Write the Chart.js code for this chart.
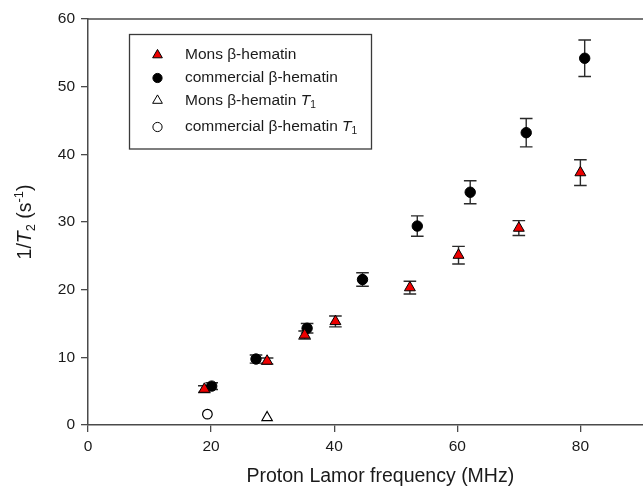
<!DOCTYPE html>
<html>
<head>
<meta charset="utf-8">
<script src="https://cdn.jsdelivr.net/npm/chart.js@4/dist/chart.umd.min.js"></script>
<style>
  html, body { margin: 0; padding: 0; background: #fff; overflow: hidden; width: 643px; height: 491px; }
  #wrap { position: relative; width: 643px; height: 491px; overflow: hidden; }
  canvas { display: block; }
</style>
</head>
<body>
<div id="wrap"><canvas id="c" width="680" height="491"></canvas></div>
<script>
// ---- data ----
const monsFreq   = [18.9, 29.1, 35.2, 40.2, 52.3, 60.2, 70.0, 80.0];
const monsRate   = [5.3, 9.45, 13.3, 15.3, 20.3, 25.1, 29.1, 37.3];
const monsErr    = [0.5, 0.45, 0.6, 0.8, 0.95, 1.3, 1.1, 1.9];
const commFreq   = [20.1, 27.3, 35.6, 44.6, 53.5, 62.1, 71.2, 80.7];
const commRate   = [5.75, 9.75, 14.3, 21.5, 29.4, 34.4, 43.2, 54.2];
const commErr    = [0.5, 0.6, 0.7, 1.0, 1.5, 1.7, 2.1, 2.7];
const monsT1Freq = [29.1];
const monsT1Rate = [1.1];
const commT1Freq = [19.4];
const commT1Rate = [1.6];
const xTicks = [0, 20, 40, 60, 80];
const yTicks = [0, 10, 20, 30, 40, 50, 60];
const seriesNames = ['Mons β-hematin', 'commercial β-hematin', 'Mons β-hematin', 'commercial β-hematin'];

const FONT = "'Liberation Sans', Arial, Helvetica, sans-serif";
const AXIS = '#4a4a4a';
const TXT = '#1a1a1a';

const pts = (xs, ys) => xs.map((x, i) => ({x: x, y: ys[i]}));

// error bars drawn through the chart scales
const errorBars = {
  id: 'errorBars',
  beforeDatasetsDraw(chart) {
    const ctx = chart.ctx, xs = chart.scales.x, ys = chart.scales.y;
    ctx.save();
    ctx.strokeStyle = '#2a2a2a';
    ctx.lineWidth = 1.4;
    chart.data.datasets.forEach(ds => {
      if (!ds.errors) return;
      ds.data.forEach((p, i) => {
        const e = ds.errors[i];
        const px = xs.getPixelForValue(p.x);
        const top = ys.getPixelForValue(p.y + e);
        const bot = ys.getPixelForValue(p.y - e);
        const cap = 6.3;
        ctx.beginPath();
        ctx.moveTo(px, top); ctx.lineTo(px, bot);
        ctx.moveTo(px - cap, top); ctx.lineTo(px + cap, top);
        ctx.moveTo(px - cap, bot); ctx.lineTo(px + cap, bot);
        ctx.stroke();
      });
    });
    ctx.restore();
  }
};

// rich-text helpers (italic T, sub/superscripts)
function measureRuns(ctx, runs, size) {
  let total = 0;
  runs.forEach(r => {
    const s = r.small ? size * 0.66 : size;
    ctx.font = (r.italic ? 'italic ' : '') + s + 'px ' + FONT;
    r._w = ctx.measureText(r.t).width;
    r._s = s;
    total += r._w;
  });
  return total;
}
function paintRuns(ctx, runs, x, y, size) {
  let cx = x;
  runs.forEach(r => {
    ctx.font = (r.italic ? 'italic ' : '') + r._s + 'px ' + FONT;
    let dy = 0;
    if (r.sub) dy = size * 0.28;
    if (r.sup) dy = -size * 0.36;
    ctx.fillText(r.t, cx, y + dy);
    cx += r._w;
  });
}

const decorations = {
  id: 'decorations',
  afterDraw(chart) {
    const ctx = chart.ctx, ca = chart.chartArea;
    ctx.save();
    // top frame line
    ctx.strokeStyle = AXIS;
    ctx.lineWidth = 1.5;
    ctx.beginPath();
    ctx.moveTo(ca.left, ca.top);
    ctx.lineTo(ca.right, ca.top);
    ctx.stroke();

    // y axis title
    const ySize = 19.5;
    const yRuns = [{t: '1/'}, {t: 'T', italic: true}, {t: '2', small: true, sub: true},
                   {t: ' (s'}, {t: '-1', small: true, sup: true}, {t: ')'}];
    ctx.fillStyle = TXT;
    ctx.textBaseline = 'middle';
    ctx.textAlign = 'left';
    const w = measureRuns(ctx, yRuns, ySize);
    ctx.translate(26, (ca.top + ca.bottom) / 2);
    ctx.rotate(-Math.PI / 2);
    paintRuns(ctx, yRuns, -w / 2, 0, ySize);
    ctx.restore();

    // legend
    ctx.save();
    const bx = 129.5, by = 34.5, bw = 242, bh = 114.5;
    ctx.fillStyle = '#fff';
    ctx.fillRect(bx, by, bw, bh);
    ctx.strokeStyle = '#3a3a3a';
    ctx.lineWidth = 1.3;
    ctx.strokeRect(bx, by, bw, bh);
    const rows = [55, 78, 100.5, 127];
    const mx = 157.5, tx = 185;
    const lsize = 15.5;
    chart.data.datasets.forEach((ds, i) => {
      const y = rows[i];
      ctx.beginPath();
      if (ds.pointStyle === 'triangle') {
        const r = 5.6;
        ctx.moveTo(mx, y - r);
        ctx.lineTo(mx + r * Math.sin(2 * Math.PI / 3), y - r * Math.cos(2 * Math.PI / 3));
        ctx.lineTo(mx + r * Math.sin(4 * Math.PI / 3), y - r * Math.cos(4 * Math.PI / 3));
        ctx.closePath();
      } else {
        ctx.arc(mx, y, 4.6, 0, Math.PI * 2);
      }
      ctx.fillStyle = ds.backgroundColor;
      ctx.fill();
      ctx.strokeStyle = ds.borderColor;
      ctx.lineWidth = 1;
      ctx.stroke();
      const runs = [{t: ds.label}];
      if (i >= 2) { runs.push({t: ' '}); runs.push({t: 'T', italic: true}); runs.push({t: '1', small: true, sub: true}); }
      ctx.fillStyle = TXT;
      ctx.textBaseline = 'middle';
      ctx.textAlign = 'left';
      measureRuns(ctx, runs, lsize);
      paintRuns(ctx, runs, tx, y, lsize);
    });
    ctx.restore();
  }
};

new Chart(document.getElementById('c'), {
  type: 'scatter',
  data: {
    datasets: [
      { label: seriesNames[0], data: pts(monsFreq, monsRate), errors: monsErr,
        pointStyle: 'triangle', radius: 6.3, backgroundColor: '#ee0000', borderColor: '#000', borderWidth: 1 },
      { label: seriesNames[1], data: pts(commFreq, commRate), errors: commErr,
        pointStyle: 'circle', radius: 5.2, backgroundColor: '#000', borderColor: '#000', borderWidth: 1 },
      { label: seriesNames[2], data: pts(monsT1Freq, monsT1Rate),
        pointStyle: 'triangle', radius: 6, backgroundColor: '#fff', borderColor: '#000', borderWidth: 1.2 },
      { label: seriesNames[3], data: pts(commT1Freq, commT1Rate),
        pointStyle: 'circle', radius: 4.8, backgroundColor: '#fff', borderColor: '#000', borderWidth: 1.2 }
    ]
  },
  options: {
    responsive: false,
    animation: false,
    events: [],
    layout: { padding: { top: 19, left: 0, right: 0, bottom: 0 } },
    plugins: { legend: { display: false }, tooltip: { enabled: false } },
    scales: {
      x: {
        type: 'linear', min: 0, max: 95,
        afterBuildTicks: s => { s.ticks = xTicks.map(v => ({value: v})); },
        ticks: { font: { family: FONT, size: 15.5 }, color: TXT, padding: 5, maxRotation: 0 },
        grid: { display: true, drawOnChartArea: false, drawTicks: true, tickLength: 7, color: AXIS, lineWidth: 1.3 },
        border: { display: true, color: AXIS, width: 1.5 },
        title: { display: true, text: 'Proton Lamor frequency (MHz)', font: { family: FONT, size: 19.5 }, color: TXT, padding: { top: 4, bottom: 3 } },
        afterFit: s => { s.height = 66; }
      },
      y: {
        type: 'linear', min: 0, max: 60,
        afterBuildTicks: s => { s.ticks = yTicks.map(v => ({value: v})); },
        ticks: { font: { family: FONT, size: 15.5 }, color: TXT, padding: 6 },
        grid: { display: true, drawOnChartArea: false, drawTicks: true, tickLength: 7, color: AXIS, lineWidth: 1.3 },
        border: { display: true, color: AXIS, width: 1.5 },
        afterFit: s => { s.width = 88; }
      }
    }
  },
  plugins: [errorBars, decorations]
});
</script>
</body>
</html>
